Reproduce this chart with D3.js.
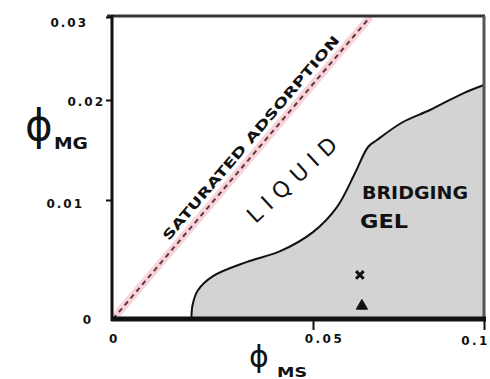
<!DOCTYPE html>
<html lang="en">
<head>
<meta charset="UTF-8">
<script src="https://d3js.org/d3.v7.min.js"></script>
<style>
  body { margin: 0; background: #fff; }
  text { font-family: "DejaVu Sans", sans-serif; }
</style>
</head>
<body>
<svg id="chart" width="490" height="379"></svg>
<script>
// ticks
const xTicks = [0, 0.05, 0.1];
const xTickLabels = ["0", "0.05", "0.1"];
const yTicks = [0, 0.01, 0.02, 0.03];
const yTickLabels = ["0", "0.01", "0.02", "0.03"];

// bridging gel boundary (phi_MS, phi_MG)
const gelX = [0.0196, 0.0199, 0.0212, 0.025, 0.0335, 0.0418, 0.05, 0.057, 0.0623, 0.0661, 0.0687, 0.0763, 0.0842, 0.0939, 0.1];
const gelY = [0, 0.0012, 0.0024, 0.0036, 0.0048, 0.0057, 0.0073, 0.0094, 0.0127, 0.0153, 0.016, 0.0178, 0.019, 0.0208, 0.0218];

// saturated adsorption line
const satX = [0, 0.0667];
const satY = [0, 0.03];

// the two sample points
const sampleX = [0.0637, 0.0643];
const sampleY = [0.0037, 0.0011];
const sampleSym = ["times", "triangle"];

const svg = d3.select("#chart");

// hand drawn axes are not quite even, so the scales are piecewise
const x = d3.scaleLinear().domain(xTicks).range([113, 313, 484]);
const y = d3.scaleLinear().domain(yTicks).range([319, 200, 100, 17]);

const gel = gelX.map((v, i) => ({x: v, y: gelY[i]}));

// gel region
svg.append("path")
    .datum(gel)
    .attr("fill", "#d3d3d3")
    .attr("d", d3.area().x(d => x(d.x)).y0(y(0)).y1(d => y(d.y)).curve(d3.curveCatmullRom));

svg.append("path")
    .datum(gel)
    .attr("fill", "none")
    .attr("stroke", "#111")
    .attr("stroke-width", 2)
    .attr("d", d3.line().x(d => x(d.x)).y(d => y(d.y)).curve(d3.curveCatmullRom));

// saturation line: pink glow + dashed line
const sat = satX.map((v, i) => [x(v), y(satY[i])]);
svg.append("path")
    .attr("d", d3.line()(sat))
    .attr("stroke", "#f6c3cb")
    .attr("stroke-width", 8)
    .attr("opacity", 0.7);
svg.append("path")
    .attr("d", d3.line()(sat))
    .attr("stroke", "#5b3a40")
    .attr("stroke-width", 2)
    .attr("stroke-dasharray", "5,4");

// frame
svg.append("line").attr("x1", 107).attr("x2", 485).attr("y1", 16).attr("y2", 16)
    .attr("stroke", "#333").attr("stroke-width", 3);
svg.append("line").attr("x1", 484).attr("x2", 484).attr("y1", 16).attr("y2", 320)
    .attr("stroke", "#555").attr("stroke-width", 3);
svg.append("line").attr("x1", 112).attr("x2", 112).attr("y1", 15).attr("y2", 321)
    .attr("stroke", "#111").attr("stroke-width", 3);
svg.append("line").attr("x1", 111).attr("x2", 486).attr("y1", 319).attr("y2", 319)
    .attr("stroke", "#111").attr("stroke-width", 5);

// axes
const yAxis = svg.append("g")
    .attr("transform", "translate(112,0)")
    .call(d3.axisLeft(y).tickValues(yTicks).tickSize(6).tickFormat((d, i) => yTickLabels[i]));
yAxis.select(".domain").remove();
yAxis.selectAll("line").attr("stroke", "#111").attr("stroke-width", 2)
    .attr("opacity", (d, i) => i === 0 ? 0 : 1);
const yShift = [[-13, 1], [-22, 4], [-1, 2], [-18, 6]];
yAxis.selectAll("text")
    .attr("x", (d, i) => -6 + yShift[i][0])
    .attr("y", (d, i) => yShift[i][1])
    .attr("font-size", 12).attr("font-weight", "bold").attr("fill", "#111")
    .attr("letter-spacing", 2);

const xAxis = svg.append("g")
    .attr("transform", "translate(0,319)")
    .call(d3.axisBottom(x).tickValues(xTicks).tickSize(11).tickFormat((d, i) => xTickLabels[i]));
xAxis.select(".domain").remove();
xAxis.selectAll("line").attr("stroke", "#111").attr("stroke-width", 2)
    .attr("opacity", (d, i) => i === 0 ? 0 : 1);
const xShift = [[1, 15], [11, 15], [-9, 17]];
xAxis.selectAll("text")
    .attr("dx", (d, i) => xShift[i][0])
    .attr("y", (d, i) => xShift[i][1])
    .attr("font-size", 12).attr("font-weight", "bold").attr("fill", "#111")
    .attr("letter-spacing", 2.5);

// axis titles
svg.append("text").attr("x", 25).attr("y", 140).attr("font-size", 42).attr("fill", "#111").text("ϕ");
svg.append("text").attr("x", 54).attr("y", 149).attr("font-size", 15).attr("font-weight", "bold")
    .attr("fill", "#111").attr("textLength", 34).attr("lengthAdjust", "spacingAndGlyphs").text("MG");
svg.append("text").attr("x", 249).attr("y", 367).attr("font-size", 30).attr("fill", "#111").text("ϕ");
svg.append("text").attr("x", 277).attr("y", 377).attr("font-size", 14).attr("font-weight", "bold")
    .attr("fill", "#111").attr("textLength", 30).attr("lengthAdjust", "spacingAndGlyphs").text("MS");

// region labels
svg.append("text")
    .attr("transform", "translate(251,138) rotate(-49.5)")
    .attr("text-anchor", "middle").attr("dominant-baseline", "central")
    .attr("font-size", 13).attr("font-weight", "bold").attr("fill", "#111")
    .attr("textLength", 264).attr("lengthAdjust", "spacingAndGlyphs")
    .text("SATURATED ADSORPTION");
svg.append("text")
    .attr("transform", "translate(292,180) rotate(-43)")
    .attr("text-anchor", "middle").attr("dominant-baseline", "central")
    .attr("font-size", 22).attr("fill", "#111")
    .attr("textLength", 114).attr("lengthAdjust", "spacing")
    .text("LIQUID");
svg.append("text").attr("x", 362).attr("y", 199)
    .attr("font-size", 17).attr("font-weight", "bold").attr("fill", "#111")
    .attr("textLength", 106).attr("lengthAdjust", "spacingAndGlyphs")
    .text("BRIDGING");
svg.append("text").attr("x", 360).attr("y", 228)
    .attr("font-size", 20).attr("font-weight", "bold").attr("fill", "#111")
    .attr("textLength", 48).attr("lengthAdjust", "spacingAndGlyphs")
    .text("GEL");

// sample points
const symType = {times: d3.symbolTimes, triangle: d3.symbolTriangle};
svg.selectAll("path.sample")
    .data(sampleX.map((v, i) => ({x: v, y: sampleY[i], s: sampleSym[i]})))
    .join("path")
    .attr("class", "sample")
    .attr("transform", d => `translate(${x(d.x)},${y(d.y)})`)
    .attr("d", d => d3.symbol().type(symType[d.s]).size(d.s === "times" ? 40 : 55)())
    .attr("fill", d => d.s === "times" ? "none" : "#111")
    .attr("stroke", "#111")
    .attr("stroke-width", d => d.s === "times" ? 3 : 1);
</script>
</body>
</html>
